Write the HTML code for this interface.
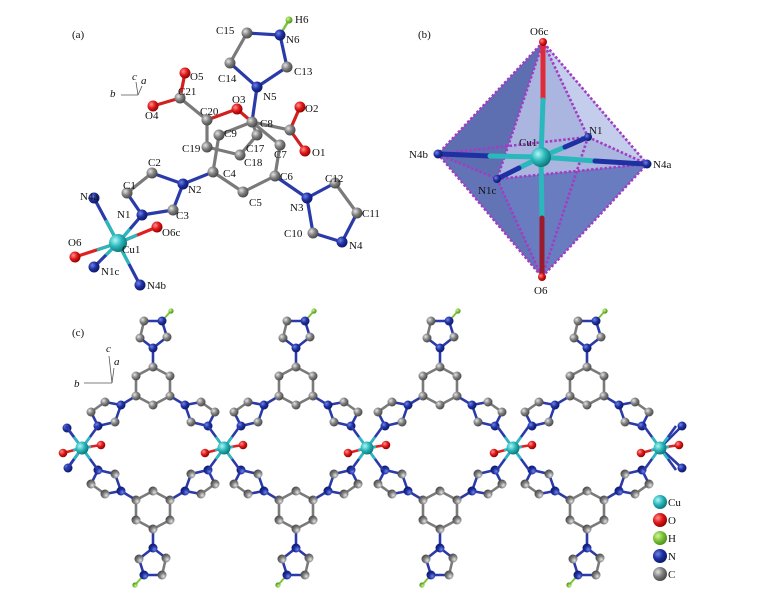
<!DOCTYPE html>
<html><head><meta charset="utf-8"><style>
html,body{margin:0;padding:0;background:#fff}
svg{display:block}
text{font-family:"Liberation Serif",serif;font-size:11px;fill:#111}
</style></head><body>
<svg width="776" height="598" viewBox="0 0 776 598" xmlns="http://www.w3.org/2000/svg">
<defs>
<radialGradient id="gC" cx="35%" cy="35%" r="70%"><stop offset="0" stop-color="#e4e4e4"/><stop offset="0.5" stop-color="#808080"/><stop offset="1" stop-color="#444"/></radialGradient>
<radialGradient id="gN" cx="35%" cy="35%" r="70%"><stop offset="0" stop-color="#7084e6"/><stop offset="0.5" stop-color="#1e30a2"/><stop offset="1" stop-color="#0c1760"/></radialGradient>
<radialGradient id="gO" cx="35%" cy="35%" r="70%"><stop offset="0" stop-color="#ff9090"/><stop offset="0.5" stop-color="#e01818"/><stop offset="1" stop-color="#8a0000"/></radialGradient>
<radialGradient id="gCu" cx="35%" cy="35%" r="70%"><stop offset="0" stop-color="#b0f6f6"/><stop offset="0.5" stop-color="#2ab8bc"/><stop offset="1" stop-color="#0e7072"/></radialGradient>
<radialGradient id="gH" cx="35%" cy="35%" r="70%"><stop offset="0" stop-color="#d4f59a"/><stop offset="0.5" stop-color="#7cc43a"/><stop offset="1" stop-color="#4a8a1a"/></radialGradient>

<g id="half">
 <g stroke="#7a7a7a" stroke-width="2.6" fill="none">
  <polyline points="0,-81 17,-72 17,-52 0,-43 -17,-52 -17,-72 0,-81"/>
  <line x1="-13" y1="-110" x2="-9" y2="-127"/>
  <line x1="-48" y1="-46" x2="-62" y2="-36"/>
  <line x1="48" y1="-46" x2="62" y2="-36"/>
 </g>
 <g stroke="#2a3aa8" stroke-width="2.6" fill="none">
  <line x1="0" y1="-81" x2="0" y2="-100"/>
  <polyline points="-9,-127 9,-127 14,-111 0,-100 -13,-110"/>
  <polyline points="-17,-52 -32,-43 -48,-46"/>
  <polyline points="-32,-43 -38,-26 -55,-22 -62,-36"/>
  <polyline points="17,-52 32,-43 48,-46"/>
  <polyline points="32,-43 38,-26 55,-22 62,-36"/>
 </g>
 <line x1="9" y1="-127" x2="18" y2="-137" stroke="#7cc43a" stroke-width="2"/>
 <g fill="url(#gC)">
  <circle cx="0" cy="-81" r="4.5"/><circle cx="-17" cy="-72" r="4.5"/><circle cx="17" cy="-72" r="4.5"/>
  <circle cx="-17" cy="-52" r="4.5"/><circle cx="17" cy="-52" r="4.5"/><circle cx="0" cy="-43" r="4.5"/>
  <circle cx="-13" cy="-110" r="4.5"/><circle cx="14" cy="-111" r="4.5"/><circle cx="-9" cy="-127" r="4.5"/>
  <circle cx="-48" cy="-46" r="4.5"/><circle cx="-62" cy="-36" r="4.5"/><circle cx="-38" cy="-26" r="4.5"/>
  <circle cx="48" cy="-46" r="4.5"/><circle cx="62" cy="-36" r="4.5"/><circle cx="38" cy="-26" r="4.5"/>
 </g>
 <g fill="url(#gN)">
  <circle cx="0" cy="-100" r="4.5"/><circle cx="9" cy="-127" r="4.5"/>
  <circle cx="-32" cy="-43" r="4.5"/><circle cx="-55" cy="-22" r="4.5"/>
  <circle cx="32" cy="-43" r="4.5"/><circle cx="55" cy="-22" r="4.5"/>
 </g>
 <circle cx="18" cy="-137" r="2.6" fill="url(#gH)"/>
</g>
<g id="unit"><use href="#half"/><use href="#half" transform="rotate(180)"/></g>

<g id="cu">
 <g stroke-width="2.6">
  <line x1="0" y1="0" x2="-16" y2="-22" stroke="#2a3aa8"/><line x1="0" y1="0" x2="-8" y2="-11" stroke="#2ab8bc"/>
  <line x1="0" y1="0" x2="-16" y2="22" stroke="#2a3aa8"/><line x1="0" y1="0" x2="-8" y2="11" stroke="#2ab8bc"/>
  <line x1="0" y1="0" x2="16" y2="-22" stroke="#2a3aa8"/><line x1="0" y1="0" x2="8" y2="-11" stroke="#2ab8bc"/>
  <line x1="0" y1="0" x2="16" y2="22" stroke="#2a3aa8"/><line x1="0" y1="0" x2="8" y2="11" stroke="#2ab8bc"/>
  <line x1="0" y1="0" x2="-19" y2="5" stroke="#e02020"/><line x1="0" y1="0" x2="-9" y2="2" stroke="#2ab8bc"/>
  <line x1="0" y1="0" x2="19" y2="-3" stroke="#e02020"/><line x1="0" y1="0" x2="9" y2="-1" stroke="#2ab8bc"/>
 </g>
 <circle cx="19" cy="-3" r="4.3" fill="url(#gO)"/>
 <circle cx="0" cy="0" r="6.5" fill="url(#gCu)"/>
 <circle cx="-19" cy="5" r="4.3" fill="url(#gO)"/>
</g>
</defs>

<!-- ===== Panel (a) ===== -->
<text x="72" y="38">(a)</text>
<g stroke="#555" stroke-width="0.8" fill="none">
 <line x1="138" y1="95" x2="121" y2="95"/><line x1="138" y1="95" x2="136" y2="82"/><line x1="138" y1="95" x2="142" y2="86"/>
</g>
<text x="110" y="97" font-style="italic">b</text><text x="132" y="80" font-style="italic" font-size="9">c</text><text x="141" y="84" font-style="italic" font-size="9">a</text>

<g stroke-width="3.2" fill="none">
 <g stroke="#7a7a7a">
  <line x1="127" y1="193" x2="152" y2="173"/>
  <line x1="213" y1="172" x2="243" y2="192"/><line x1="243" y1="192" x2="275" y2="176"/>
  <line x1="275" y1="176" x2="280" y2="145"/><line x1="280" y1="145" x2="252" y2="122"/>
  <line x1="252" y1="122" x2="219" y2="135"/><line x1="219" y1="135" x2="213" y2="172"/>
  <line x1="207" y1="147" x2="207" y2="120"/><line x1="252" y1="122" x2="257" y2="135"/>
  <line x1="257" y1="135" x2="240" y2="155"/><line x1="240" y1="155" x2="207" y2="147"/>
  <line x1="207" y1="120" x2="180" y2="98"/><line x1="252" y1="122" x2="290" y2="130"/>
  <line x1="230" y1="63" x2="247" y2="33"/><line x1="335" y1="183" x2="357" y2="213"/>
 </g>
 <g stroke="#2a3aa8">
  <line x1="142" y1="215" x2="127" y2="193"/><line x1="152" y1="173" x2="183" y2="184"/>
  <line x1="183" y1="184" x2="173" y2="210"/><line x1="173" y1="210" x2="142" y2="215"/>
  <line x1="183" y1="184" x2="213" y2="172"/>
  <line x1="252" y1="122" x2="257" y2="87"/><line x1="257" y1="87" x2="230" y2="63"/>
  <line x1="247" y1="33" x2="280" y2="35"/><line x1="280" y1="35" x2="287" y2="67"/><line x1="287" y1="67" x2="257" y2="87"/>
  <line x1="275" y1="176" x2="307" y2="198"/><line x1="307" y1="198" x2="335" y2="183"/>
  <line x1="357" y1="213" x2="342" y2="242"/><line x1="342" y1="242" x2="313" y2="233"/><line x1="313" y1="233" x2="307" y2="198"/>
 </g>
 <g stroke="#d02020">
  <line x1="207" y1="120" x2="237" y2="109"/><line x1="237" y1="109" x2="252" y2="122"/>
  <line x1="180" y1="98" x2="185" y2="73"/><line x1="180" y1="98" x2="153" y2="106"/>
  <line x1="290" y1="130" x2="300" y2="107"/><line x1="290" y1="130" x2="305" y2="151"/>
 </g>
 <line x1="280" y1="35" x2="289" y2="20" stroke="#7cc43a" stroke-width="2.5"/>
 <!-- Cu bonds -->
 <line x1="118" y1="243" x2="75" y2="257" stroke="#e02020"/><line x1="118" y1="243" x2="97" y2="250" stroke="#2ab8bc"/>
 <line x1="118" y1="243" x2="94" y2="267" stroke="#2a3aa8"/><line x1="118" y1="243" x2="106" y2="255" stroke="#2ab8bc"/>
 <line x1="118" y1="243" x2="140" y2="285" stroke="#2a3aa8"/><line x1="118" y1="243" x2="129" y2="264" stroke="#2ab8bc"/>
 <line x1="118" y1="243" x2="94" y2="198" stroke="#2a3aa8"/><line x1="118" y1="243" x2="106" y2="220" stroke="#2ab8bc"/>
 <line x1="118" y1="243" x2="157" y2="227" stroke="#e02020"/><line x1="118" y1="243" x2="137" y2="235" stroke="#2ab8bc"/>
 <line x1="118" y1="243" x2="142" y2="215" stroke="#2a3aa8"/><line x1="118" y1="243" x2="130" y2="229" stroke="#2ab8bc"/>
</g>
<g fill="url(#gC)">
 <circle cx="127" cy="193" r="5.5"/><circle cx="152" cy="173" r="5.5"/><circle cx="173" cy="210" r="5.5"/>
 <circle cx="213" cy="172" r="5.5"/><circle cx="243" cy="192" r="5.5"/><circle cx="275" cy="176" r="5.5"/>
 <circle cx="280" cy="145" r="5.5"/><circle cx="252" cy="122" r="5.5"/><circle cx="219" cy="135" r="5.5"/>
 <circle cx="257" cy="135" r="5.5"/><circle cx="240" cy="155" r="5.5"/><circle cx="207" cy="147" r="5.5"/>
 <circle cx="207" cy="120" r="5.5"/><circle cx="180" cy="98" r="5.5"/><circle cx="290" cy="130" r="5.5"/>
 <circle cx="230" cy="63" r="5.5"/><circle cx="247" cy="33" r="5.5"/><circle cx="287" cy="67" r="5.5"/>
 <circle cx="335" cy="183" r="5.5"/><circle cx="357" cy="213" r="5.5"/><circle cx="313" cy="233" r="5.5"/>
</g>
<g fill="url(#gN)">
 <circle cx="142" cy="215" r="5.5"/><circle cx="183" cy="184" r="5.5"/><circle cx="257" cy="87" r="5.5"/>
 <circle cx="280" cy="35" r="5.5"/><circle cx="307" cy="198" r="5.5"/><circle cx="342" cy="242" r="5.5"/>
 <circle cx="94" cy="198" r="5.5"/><circle cx="94" cy="267" r="5.5"/><circle cx="140" cy="285" r="5.5"/>
</g>
<g fill="url(#gO)">
 <circle cx="237" cy="109" r="5.5"/><circle cx="185" cy="73" r="5.5"/><circle cx="153" cy="106" r="5.5"/>
 <circle cx="300" cy="107" r="5.5"/><circle cx="305" cy="151" r="5.5"/><circle cx="75" cy="257" r="5.5"/><circle cx="157" cy="227" r="5.5"/>
</g>
<circle cx="289" cy="20" r="3.5" fill="url(#gH)"/>
<circle cx="118" cy="243" r="9" fill="url(#gCu)"/>
<g>
 <text x="295" y="23">H6</text><text x="286" y="43">N6</text><text x="216" y="34">C15</text><text x="294" y="75">C13</text>
 <text x="218" y="82">C14</text><text x="263" y="100">N5</text><text x="190" y="80">O5</text><text x="178" y="95">C21</text>
 <text x="145" y="119">O4</text><text x="200" y="115">C20</text><text x="232" y="103">O3</text><text x="260" y="127">C8</text>
 <text x="305" y="112">O2</text><text x="224" y="137">C9</text><text x="182" y="152">C19</text><text x="246" y="152">C17</text>
 <text x="274" y="158">C7</text><text x="312" y="156">O1</text><text x="244" y="166">C18</text><text x="148" y="166">C2</text>
 <text x="223" y="177">C4</text><text x="280" y="180">C6</text><text x="325" y="182">C12</text><text x="123" y="189">C1</text>
 <text x="188" y="193">N2</text><text x="80" y="200">N4a</text><text x="249" y="206">C5</text><text x="290" y="211">N3</text>
 <text x="362" y="217">C11</text><text x="117" y="218">N1</text><text x="176" y="219">C3</text><text x="162" y="236">O6c</text>
 <text x="284" y="237">C10</text><text x="349" y="249">N4</text><text x="122" y="253">Cu1</text><text x="68" y="246">O6</text>
 <text x="101" y="275">N1c</text><text x="147" y="289">N4b</text>
</g>

<!-- ===== Panel (b) ===== -->
<text x="418" y="38">(b)</text>
<polygon points="543,42 438,154 542,277 647,164" fill="#6b7dbe"/>
<polygon points="543,42 438,154 497,179" fill="#5d6fb0"/>
<polygon points="543,42 497,179 647,164" fill="#aab6df"/>
<polygon points="543,42 588,137 647,164" fill="#c4cdeb"/>
<polygon points="438,154 497,179 542,277" fill="#6274b6"/>
<polygon points="497,179 647,164 542,277" fill="#6a7cc0"/>
<g stroke="#a13cc4" stroke-width="2.6" stroke-dasharray="2.5 2" fill="none">
 <polygon points="543,42 438,154 542,277 647,164"/>
 <line x1="543" y1="42" x2="497" y2="179"/><line x1="543" y1="42" x2="588" y2="137"/>
 <line x1="438" y1="154" x2="588" y2="137"/><line x1="588" y1="137" x2="647" y2="164"/>
 <line x1="438" y1="154" x2="497" y2="179"/><line x1="497" y1="179" x2="647" y2="164"/>
 <line x1="497" y1="179" x2="542" y2="277"/><line x1="588" y1="137" x2="542" y2="277"/>
</g>
<g stroke-width="5" stroke-linecap="round">
 <line x1="543" y1="44" x2="543" y2="100" stroke="#e02a3a"/><line x1="543" y1="100" x2="541" y2="157" stroke="#2ab8bc"/>
 <line x1="541" y1="157" x2="542" y2="218" stroke="#2ab8bc"/><line x1="542" y1="218" x2="542" y2="275" stroke="#9a1c2c"/>
 <line x1="440" y1="154" x2="490" y2="156" stroke="#1e30a2"/><line x1="490" y1="156" x2="541" y2="157" stroke="#2ab8bc"/>
 <line x1="541" y1="157" x2="595" y2="161" stroke="#2ab8bc"/><line x1="595" y1="161" x2="645" y2="164" stroke="#1e30a2"/>
 <line x1="541" y1="157" x2="565" y2="147" stroke="#2ab8bc"/><line x1="565" y1="147" x2="588" y2="137" stroke="#1e30a2"/>
 <line x1="541" y1="157" x2="519" y2="168" stroke="#2ab8bc"/><line x1="519" y1="168" x2="497" y2="179" stroke="#1e30a2"/>
</g>
<circle cx="543" cy="42" r="4" fill="url(#gO)"/><circle cx="542" cy="277" r="4" fill="url(#gO)"/>
<circle cx="438" cy="154" r="4.5" fill="url(#gN)"/><circle cx="647" cy="164" r="4.5" fill="url(#gN)"/>
<circle cx="588" cy="137" r="4" fill="url(#gN)"/><circle cx="497" cy="179" r="4" fill="url(#gN)"/>
<circle cx="541" cy="157" r="10" fill="url(#gCu)"/>
<text x="530" y="35">O6c</text><text x="534" y="294">O6</text><text x="409" y="158">N4b</text><text x="653" y="168">N4a</text>
<text x="589" y="134">N1</text><text x="478" y="194">N1c</text><text x="519" y="146">Cu1</text>

<!-- ===== Panel (c) ===== -->
<text x="72" y="336">(c)</text>
<g stroke="#555" stroke-width="0.8" fill="none">
 <line x1="112" y1="383" x2="84" y2="383"/><line x1="112" y1="383" x2="109" y2="356"/><line x1="112" y1="383" x2="114" y2="368"/>
</g>
<text x="74" y="387" font-style="italic">b</text><text x="106" y="352" font-style="italic" font-size="9">c</text><text x="114" y="365" font-style="italic" font-size="9">a</text>

<use href="#unit" transform="translate(153,448)"/>
<use href="#unit" transform="translate(296,448)"/>
<use href="#unit" transform="translate(440,448)"/>
<use href="#unit" transform="translate(587,448)"/>

<!-- edge N atoms -->
<g stroke-width="2.6">
 <line x1="82" y1="448" x2="67" y2="428" stroke="#2a3aa8"/><line x1="82" y1="448" x2="68" y2="468" stroke="#2a3aa8"/>
 <line x1="660" y1="448" x2="682" y2="426" stroke="#2a3aa8"/><line x1="660" y1="448" x2="682" y2="468" stroke="#2a3aa8"/>
</g>
<circle cx="67" cy="428" r="4.5" fill="url(#gN)"/><circle cx="68" cy="468" r="4.5" fill="url(#gN)"/>
<circle cx="682" cy="426" r="4.5" fill="url(#gN)"/><circle cx="682" cy="468" r="4.5" fill="url(#gN)"/>

<use href="#cu" transform="translate(82,448)"/>
<use href="#cu" transform="translate(224,448)"/>
<use href="#cu" transform="translate(367,448)"/>
<use href="#cu" transform="translate(513,448)"/>
<use href="#cu" transform="translate(660,448)"/>

<!-- legend -->
<circle cx="660" cy="502" r="7" fill="url(#gCu)"/><text x="668" y="506">Cu</text>
<circle cx="660" cy="520" r="7" fill="url(#gO)"/><text x="668" y="524">O</text>
<circle cx="660" cy="538" r="7" fill="url(#gH)"/><text x="668" y="542">H</text>
<circle cx="660" cy="556" r="7" fill="url(#gN)"/><text x="668" y="560">N</text>
<circle cx="660" cy="574" r="7" fill="url(#gC)"/><text x="668" y="578">C</text>
</svg>
</body></html>
